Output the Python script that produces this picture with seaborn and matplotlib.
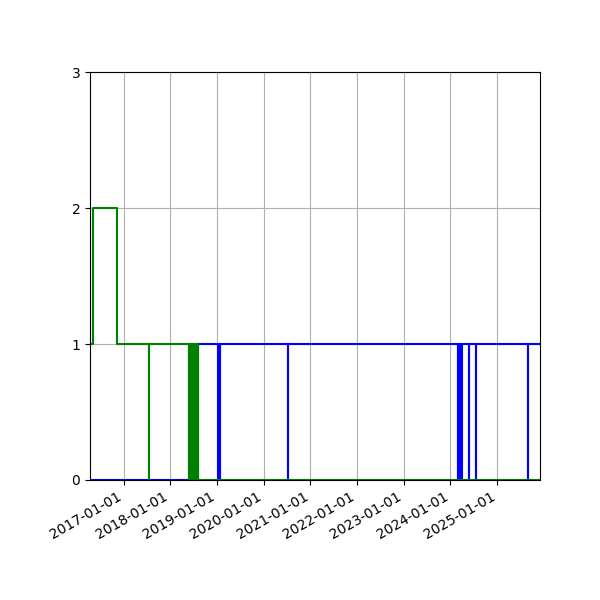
import pandas as pd
import numpy as np
import seaborn as sns
import matplotlib
matplotlib.use("Agg")
import matplotlib.pyplot as plt
import matplotlib.dates as mdates

# change points of each series (value holds until the next date)
green_dates = ["2016-04-13", "2016-05-03", "2016-11-12", "2017-07-20", "2017-07-22",
               "2018-05-28", "2018-05-30", "2018-06-03", "2018-06-05", "2018-06-09", "2018-06-11",
               "2018-06-15", "2018-06-17", "2018-06-21", "2018-06-23", "2018-06-27", "2018-06-29",
               "2018-07-03", "2018-07-05", "2018-07-09", "2018-07-11", "2018-07-15", "2018-07-17",
               "2018-07-21", "2018-07-23", "2018-07-27", "2018-07-29", "2018-08-02", "2018-08-04",
               "2018-08-06", "2025-12-01"]
green_values = [1, 2, 1, 0, 1,
                0, 1, 0, 1, 0, 1,
                0, 1, 0, 1, 0, 1,
                0, 1, 0, 1, 0, 1,
                0, 1, 0, 1, 0, 1,
                0, 0]

blue_dates = ["2016-04-13", "2018-05-28", "2019-01-12", "2019-01-14", "2019-01-24", "2019-01-26",
              "2020-07-08", "2020-07-10", "2024-02-25", "2024-02-27", "2024-03-10", "2024-03-12",
              "2024-03-27", "2024-03-29", "2024-05-23", "2024-05-25", "2024-07-20", "2024-07-22",
              "2025-08-26", "2025-08-28", "2025-12-01"]
blue_values = [0, 1, 0, 1, 0, 1,
               0, 1, 0, 1, 0, 1,
               0, 1, 0, 1, 0, 1,
               0, 1, 1]

green = pd.DataFrame({"date": pd.to_datetime(green_dates), "count": green_values})
blue = pd.DataFrame({"date": pd.to_datetime(blue_dates), "count": blue_values})

fig, ax = plt.subplots(figsize=(6, 6), dpi=100)
sns.lineplot(data=blue, x="date", y="count", color="blue", drawstyle="steps-post",
             estimator=None, linewidth=1.5, ax=ax)
sns.lineplot(data=green, x="date", y="count", color="green", drawstyle="steps-post",
             estimator=None, linewidth=1.5, ax=ax)

ax.set_xlim(green["date"].min(), green["date"].max())
ax.set_ylim(0, 3)
ax.set_yticks([0, 1, 2, 3])
ax.xaxis.set_major_locator(mdates.YearLocator())
ax.xaxis.set_major_formatter(mdates.DateFormatter("%Y-%m-%d"))
ax.grid(True)
ax.set_xlabel("")
ax.set_ylabel("")
plt.setp(ax.get_xticklabels(), rotation=30, ha="right")
fig.subplots_adjust(left=0.15, right=0.9, top=0.88, bottom=0.2)
fig.savefig("out.png", dpi=100)
